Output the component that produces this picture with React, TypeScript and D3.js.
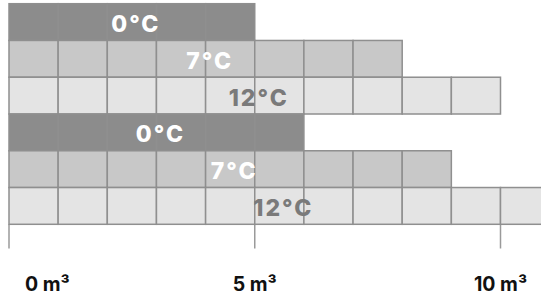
import React from "react";
import * as d3 from "d3";

const rowLabels = ["0°C", "7°C", "12°C", "0°C", "7°C", "12°C"];
const rowValues = [5, 8, 10, 6, 9, 11];
const rowKinds = ["cold", "mid", "warm", "cold", "mid", "warm"];
const tickValues = [0, 5, 10];
const tickLabels = ["0 m³", "5 m³", "10 m³"];

const W = 541;
const H = 300;

const fillColor: Record<string, string> = {
  cold: "#8c8c8c",
  mid: "#c8c8c8",
  warm: "#e4e4e4",
};
const textColor: Record<string, string> = {
  cold: "#ffffff",
  mid: "#ffffff",
  warm: "#7a7a7a",
};

export default function App() {
  const x = d3.scaleLinear().domain([0, 10]).range([9, 500.5]);
  const y = d3
    .scaleBand<number>()
    .domain(d3.range(rowValues.length))
    .range([3.7, 224.3])
    .padding(0);
  const bh = y.bandwidth();
  const bottom = y.range()[1];

  return (
    <svg
      width={W}
      height={H}
      style={{ position: "absolute", left: 0, top: 0, background: "#fff" }}
    >
      {tickValues.map((t, i) => (
        <line
          key={"t" + i}
          x1={x(t)}
          x2={x(t)}
          y1={bottom}
          y2={248.5}
          stroke="#9a9a9a"
          strokeWidth={1.5}
        />
      ))}
      {rowValues.map((v, r) => (
        <g key={"r" + r}>
          {d3.range(v).map((c) => (
            <rect
              key={c}
              x={x(c)}
              y={y(r) as number}
              width={x(c + 1) - x(c)}
              height={bh}
              fill={fillColor[rowKinds[r]]}
              stroke="#8f8f8f"
              strokeWidth={1.5}
            />
          ))}
        </g>
      ))}
      {rowValues.map((v, r) => (
        <text
          key={"l" + r}
          x={x(v / 2) + 4}
          y={(y(r) as number) + bh / 2 + 2}
          textAnchor="middle"
          dominantBaseline="central"
          fill={textColor[rowKinds[r]]}
          fontFamily="Inter, 'Open Sans', sans-serif"
          fontWeight={800}
          fontSize={23}
          letterSpacing={2}
        >
          {rowLabels[r]}
        </text>
      ))}
      {tickValues.map((t, i) => (
        <text
          key={"x" + i}
          x={i === 0 ? x(t) + 16 : x(t)}
          y={291}
          textAnchor={i === 0 ? "start" : "middle"}
          fill="#111"
          fontFamily="Inter, sans-serif"
          fontWeight={700}
          fontSize={19.5}
        >
          {tickLabels[i]}
        </text>
      ))}
    </svg>
  );
}
